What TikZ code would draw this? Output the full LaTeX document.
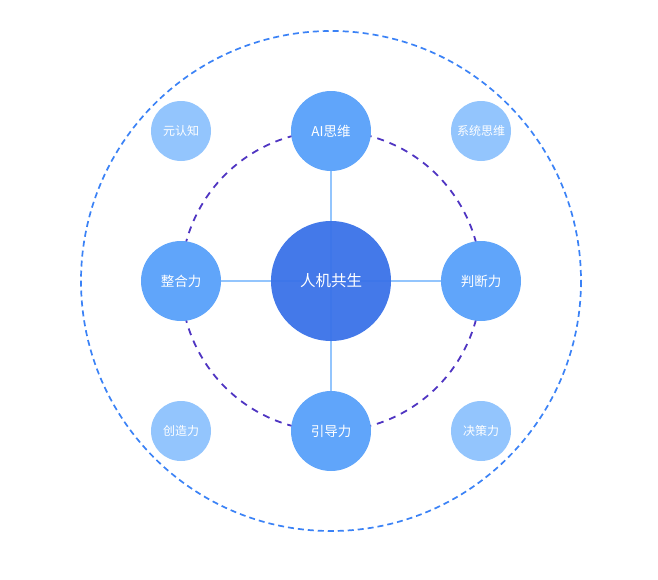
\documentclass[tikz,border=0pt]{standalone}
\usepackage{fontspec}
\newfontfamily\cjk{Noto Sans CJK SC}
\usetikzlibrary{backgrounds}
\definecolor{hubblue}{HTML}{3A72E8}
\definecolor{midblue}{HTML}{60A5FA}
\definecolor{lightblue}{HTML}{93C5FD}
\definecolor{ringblue}{HTML}{3B82F6}
\definecolor{ringpurple}{HTML}{4F35C2}
\tikzset{
  hub/.style={circle,fill=hubblue,fill opacity=0.95,text opacity=1,text=white,minimum size=120pt,inner sep=0pt,font=\cjk\fontsize{15.5}{18}\selectfont},
  skill/.style={circle,fill=midblue,text=white,minimum size=80pt,inner sep=0pt,font=\cjk\fontsize{13.5}{16}\selectfont},
  extra/.style={circle,fill=lightblue,text=white,minimum size=60pt,inner sep=0pt,font=\cjk\fontsize{12}{14}\selectfont},
  spoke/.style={lightblue,line width=1.5pt}
}
\begin{document}
\begin{tikzpicture}[x=1pt,y=-1pt]
  \useasboundingbox (0,0) rectangle (658,579);
  % rings
  \draw[ringblue,line width=1.7pt,dash pattern=on 6pt off 4pt] (331,281) circle (250);
  \draw[ringpurple,line width=1.8pt,dash pattern=on 7pt off 6pt] (331,281) circle (150);
  \node[hub] (hub) at (331,281) {人机共生};
  \foreach \n/\x/\y/\l in
    {ai/331/131/{AI思维},
     judge/481/281/{判断力},
     guide/331/431/{引导力},
     merge/181/281/{整合力}} {
    \node[skill] (\n) at (\x,\y) {\l};
  }
  \foreach \n/\x/\y/\l in
    {meta/181/131/{元认知},
     systems/481/131/{系统思维},
     create/181/431/{创造力},
     decide/481/431/{决策力}} {
    \node[extra] (\n) at (\x,\y) {\l};
  }
  \begin{scope}[on background layer]
    \foreach \n in {ai,judge,guide,merge}
      \draw[spoke] (hub.center) -- (\n.center);
  \end{scope}
\end{tikzpicture}
\end{document}
